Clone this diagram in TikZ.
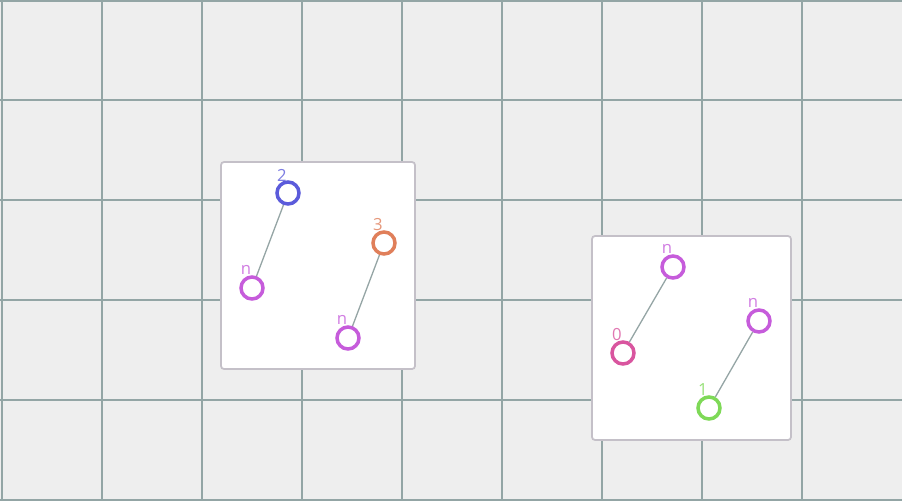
\documentclass[tikz,border=0pt]{standalone}
\usepackage{fontspec}
\setmainfont{Open Sans}
\definecolor{bgc}{HTML}{EEEEEE}
\definecolor{gridc}{HTML}{93A5A5}
\definecolor{boxc}{HTML}{C4C0C8}
\definecolor{edgec}{HTML}{95A5A5}
\definecolor{cblue}{HTML}{5B5BDB}
\definecolor{cpurp}{HTML}{C65CDB}
\definecolor{corng}{HTML}{E07F5A}
\definecolor{cpink}{HTML}{D9559F}
\definecolor{cgrn}{HTML}{7ED957}
\begin{document}
\begin{tikzpicture}[x=0.02cm, y=-0.02cm,
  vert/.style={circle, draw, line width=0.07cm, minimum size=0.44cm, inner sep=0pt, fill=white},
  lbl/.style={font=\fontsize{9.5}{10}\selectfont, inner sep=0pt},
  panel/.style={draw=boxc, fill=white, line width=0.035cm, rounded corners=0.06cm},
  link/.style={draw=edgec, line width=0.026cm}]
  \fill[bgc] (0,0) rectangle (902,501);
  \useasboundingbox (0,0) rectangle (902,501);
  \foreach \gx in {2,102,...,802} \draw[gridc, line width=0.025cm] (\gx,0) -- (\gx,501);
  \foreach \gy in {1,100,200,300,400,500} \draw[gridc, line width=0.025cm] (0,\gy) -- (902,\gy);
  % left panel
  \draw[panel] (221,162) rectangle (415,369);
  \node[vert, draw=cblue] (t2) at (288,193) {};
  \node[vert, draw=cpurp] (na) at (252,288) {};
  \node[vert, draw=corng] (t3) at (384,243) {};
  \node[vert, draw=cpurp] (nb) at (348,338) {};
  \node[lbl, text=cblue!80] (l2) at (282,175) {2};
  \node[lbl, text=cpurp!80] (lna) at (246,270) {n};
  \node[lbl, text=corng!80] (l3) at (378,225) {3};
  \node[lbl, text=cpurp!80] (lnb) at (342,320) {n};
  \draw[link] (t2) -- (na);
  \draw[link] (t3) -- (nb);
  % right panel
  \draw[panel] (592,236) rectangle (791,440);
  \node[vert, draw=cpurp] (nc) at (673,267) {};
  \node[vert, draw=cpink] (t0) at (623,353) {};
  \node[vert, draw=cpurp] (nd) at (759,321) {};
  \node[vert, draw=cgrn] (t1) at (709,408) {};
  \node[lbl, text=cpurp!80] (lnc) at (667,249) {n};
  \node[lbl, text=cpink!80] (l0) at (617,335) {0};
  \node[lbl, text=cpurp!80] (lnd) at (753,303) {n};
  \node[lbl, text=cgrn!80] (l1) at (703,390) {1};
  \draw[link] (nc) -- (t0);
  \draw[link] (nd) -- (t1);
\end{tikzpicture}
\end{document}
